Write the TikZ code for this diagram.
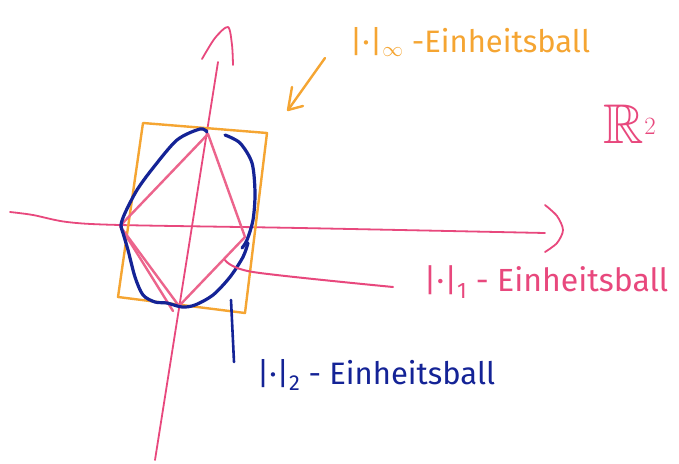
\documentclass[tikz,border=0pt]{standalone}
\usepackage{amssymb}
\usepackage{fontspec}
\setsansfont{Fira Sans}
\begin{document}
\begin{tikzpicture}[x=1pt,y=-1pt,
  line cap=round, line join=round,
  axisline/.style={draw=pinkax, line width=1.8pt},
  orangeline/.style={draw=orangec, line width=2.4pt},
  rhombline/.style={draw=pinkrh, line width=2.4pt},
  blueline/.style={draw=bluec, line width=3.2pt},
  lbl/.style={inner sep=0pt, font=\sffamily}]
\definecolor{orangec}{RGB}{245,165,50}
\definecolor{pinkax}{RGB}{232,72,125}
\definecolor{pinkrh}{RGB}{236,100,140}
\definecolor{bluec}{RGB}{20,35,150}
\fill[white] (0,0) rectangle (679,463);
\useasboundingbox (0,0) rectangle (679,463);

% axes
\draw[axisline] plot[smooth] coordinates {(10,212) (33,215) (67,222) (120,225) (300,228) (545,233)};
\draw[axisline] plot[smooth] coordinates {(545,205) (557,216) (563,230) (557,243) (545,252)};
\draw[axisline] (155,460) -- (218,62);
\draw[axisline] plot[smooth] coordinates {(202,59) (215,38) (228,27) (232,45) (233,65)};

% orange square (infinity ball)
\draw[orangeline] (143,123) -- (267,133) -- (245,313) -- (118,297) -- cycle;

% pink rhombus (1-ball)
\draw[rhombline] (208,134) -- (245,237) -- (179,306) -- (120,226) -- cycle;
\draw[rhombline] (120,226) -- (173,311);

% blue ellipse (2-ball)
\draw[blueline] plot[smooth] coordinates {(207,132) (200,129) (177,140) (153,168) (137,190) (125,213) (121,225)
  (123,233) (128,250) (135,277) (143,295) (155,302) (167,303) (182,307) (195,305) (213,295) (230,277) (243,257) (248,243)};
\draw[blueline] plot[smooth] coordinates {(225,135) (240,143) (252,163) (255,193) (253,220) (247,240) (242,248)};

% labels
\node[lbl, text=orangec, font=\sffamily\fontsize{31}{36}\selectfont] (linf) at (470,42) {|·|\textsubscript{$\infty$} -Einheitsball};
\node[lbl, text=pinkax, font=\sffamily\fontsize{32}{38}\selectfont] (lone) at (546,282) {|·|\textsubscript{1} - Einheitsball};
\node[lbl, text=bluec, font=\sffamily\fontsize{31}{36}\selectfont] (ltwo) at (376,375) {|·|\textsubscript{2} - Einheitsball};
\node[lbl, text=pinkax, font=\fontsize{56}{60}\selectfont] (rtwo) at (630,124) {$\mathbb{R}^2$};

% leaders
\coordinate (ainf) at (325,58);
\coordinate (tinf) at (288,110);
\draw[orangeline] (ainf) -- (tinf);
\draw[orangeline] (292,87) -- (tinf) -- (303,106);
\coordinate (aone) at (393,287);
\coordinate (tone) at (225,260);
\draw[axisline, line width=2pt] plot[smooth] coordinates {(tone) (253,272) (aone)};
\coordinate (atwo) at (234,362);
\coordinate (ttwo) at (231,300);
\draw[blueline, line width=2.6pt] (ttwo) -- (atwo);
\end{tikzpicture}
\end{document}
